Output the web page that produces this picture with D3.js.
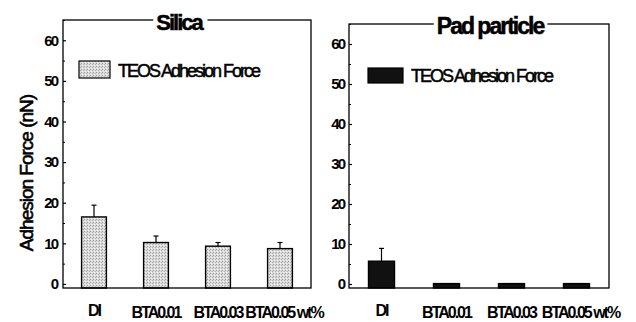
<!DOCTYPE html>
<html>
<head>
<meta charset="utf-8">
<script src="https://cdn.jsdelivr.net/npm/d3@7"></script>
<style>
  body { margin: 0; background: #fff; }
  svg { display: block; }
  text { font-family: "Liberation Sans", Arial, sans-serif; fill: #000; }
</style>
</head>
<body>
<div id="chart"></div>
<script>
// ---- data ----
var categories = ["DI", "BTA0.01", "BTA0.03", "BTA0.05 wt%"];
var silicaValues = [16.5, 10.2, 9.3, 8.7];
var silicaErrors = [2.9, 1.6, 0.9, 1.5];
var padValues = [5.7, 0.1, 0.1, 0.1];
var padErrors = [3.2, 0, 0, 0];
var yTicks = [0, 10, 20, 30, 40, 50, 60];
var yMinorTicks = [5, 15, 25, 35, 45, 55, 65];
var legendLabel = "TEOS  Adhesion Force";
var yLabel = "Adhesion Force (nN)";

var width = 636, height = 322;

var svg = d3.select("#chart").append("svg")
    .attr("width", width)
    .attr("height", height);

// stippled light grey fill for the silica bars
var defs = svg.append("defs");
var pat = defs.append("pattern")
    .attr("id", "stipple")
    .attr("width", 3).attr("height", 3)
    .attr("patternUnits", "userSpaceOnUse");
pat.append("rect").attr("width", 3).attr("height", 3).attr("fill", "#dcdcdc");
pat.append("rect").attr("x", 0).attr("y", 0).attr("width", 1).attr("height", 1).attr("fill", "#9a9a9a");
pat.append("rect").attr("x", 2).attr("y", 1).attr("width", 1).attr("height", 1).attr("fill", "#b0b0b0");
pat.append("rect").attr("x", 1).attr("y", 2).attr("width", 1).attr("height", 1).attr("fill", "#f4f4f4");

var panels = [
    { title: "Silica", values: silicaValues, errors: silicaErrors, fill: "url(#stipple)",
      x0: 63, x1: 311, y0: 20, y1: 288, titleSize: 22, legendDx: 16, legendDy: 41, legendW: 31, legendH: 17 },
    { title: "Pad particle", values: padValues, errors: padErrors, fill: "#111",
      x0: 349, x1: 609, y0: 24, y1: 288, titleSize: 23, legendDx: 19, legendDy: 44, legendW: 35, legendH: 15 }
];

panels.forEach(function(p, pi){
    var g = svg.append("g");

    var x = d3.scaleBand()
        .domain(categories)
        .range([p.x0, p.x1])
        .paddingInner(0.6)
        .paddingOuter(0.3);

    var y = d3.scaleLinear()
        .domain([-1, 65])
        .range([p.y1, p.y0]);

    // bars (drawn up from the bottom of the axis)
    g.selectAll("rect.bar")
        .data(p.values)
        .enter()
        .append("rect")
        .attr("class", "bar")
        .attr("x", function(d, i){ return x(categories[i]); })
        .attr("width", x.bandwidth())
        .attr("y", function(d){ return y(d); })
        .attr("height", function(d){ return y(-1) - y(d); })
        .attr("fill", p.fill)
        .attr("stroke", "#000")
        .attr("stroke-width", 1.4);

    // error bars, upper half only
    var errs = g.selectAll("g.err")
        .data(p.values)
        .enter()
        .append("g")
        .attr("class", "err")
        .filter(function(d, i){ return p.errors[i] > 0; });
    errs.append("line")
        .attr("x1", function(d, i){ return x(categories[i]) + x.bandwidth() / 2; })
        .attr("x2", function(d, i){ return x(categories[i]) + x.bandwidth() / 2; })
        .attr("y1", function(d){ return y(d); })
        .attr("y2", function(d, i){ return y(d + p.errors[i]); })
        .attr("stroke", "#000").attr("stroke-width", 1.2);
    errs.append("line")
        .attr("x1", function(d, i){ return x(categories[i]) + x.bandwidth() / 2 - 2.5; })
        .attr("x2", function(d, i){ return x(categories[i]) + x.bandwidth() / 2 + 2.5; })
        .attr("y1", function(d, i){ return y(d + p.errors[i]); })
        .attr("y2", function(d, i){ return y(d + p.errors[i]); })
        .attr("stroke", "#000").attr("stroke-width", 1.2);

    // y axis, ticks pointing inward
    var yAxis = g.append("g")
        .attr("transform", "translate(" + p.x0 + ",0)")
        .call(d3.axisLeft(y).tickValues(yTicks).tickSizeInner(-3).tickSizeOuter(0).tickPadding(pi == 0 ? 6 : 5));
    yAxis.select(".domain").remove();
    yAxis.selectAll("text")
        .attr("font-size", 15)
        .attr("font-weight", "bold")
        .attr("letter-spacing", -2)
        .attr("font-family", "Liberation Sans, Arial, sans-serif");
    yAxis.selectAll("line").attr("stroke-width", 1.2);

    var yMinor = g.append("g")
        .attr("transform", "translate(" + p.x0 + ",0)")
        .call(d3.axisLeft(y).tickValues(yMinorTicks).tickSizeInner(-2).tickSizeOuter(0).tickFormat(""));
    yMinor.select(".domain").remove();

    // frame
    g.append("rect")
        .attr("x", p.x0).attr("y", p.y0)
        .attr("width", p.x1 - p.x0).attr("height", p.y1 - p.y0)
        .attr("fill", "none")
        .attr("stroke", "#000")
        .attr("stroke-width", 1.3);

    // title sitting on the top border
    var cx = (p.x0 + p.x1) / 2 + (pi == 0 ? -8 : 11);
    var t = g.append("text")
        .attr("x", cx)
        .attr("y", p.y0 + 10)
        .attr("text-anchor", "middle")
        .attr("font-size", p.titleSize)
        .attr("font-weight", "bold")
        .attr("letter-spacing", -2)
        .attr("stroke", "#000")
        .attr("stroke-width", 0.5)
        .text(p.title);
    var bb = t.node().getBBox();
    g.insert("rect", function(){ return t.node(); })
        .attr("x", bb.x - 3).attr("y", p.y0 - 3)
        .attr("width", bb.width + 6).attr("height", 6)
        .attr("fill", "#fff");

    // legend
    var lx = p.x0 + p.legendDx, ly = p.y0 + p.legendDy;
    g.append("rect")
        .attr("x", lx).attr("y", ly)
        .attr("width", p.legendW).attr("height", p.legendH)
        .attr("fill", p.fill)
        .attr("stroke", "#000")
        .attr("stroke-width", 1.2);
    g.append("text")
        .attr("x", lx + p.legendW + 8)
        .attr("y", ly + p.legendH - 1)
        .attr("font-size", 18)
        .attr("letter-spacing", -2)
        .attr("stroke", "#000")
        .attr("stroke-width", 0.5)
        .text(legendLabel);

    // category labels
    g.selectAll("text.cat")
        .data(categories)
        .enter()
        .append("text")
        .attr("class", "cat")
        .attr("x", function(d){ return x(d) + x.bandwidth() / 2 + (d == "BTA0.05 wt%" ? 4 : 0); })
        .attr("y", function(d){ return d == "DI" ? 316 : 318; })
        .attr("text-anchor", "middle")
        .attr("font-size", 16)
        .attr("font-weight", "bold")
        .attr("letter-spacing", -2)
        .text(function(d){ return d; });
});

// y axis title
svg.append("text")
    .attr("transform", "translate(33,173) rotate(-90)")
    .attr("text-anchor", "middle")
    .attr("font-size", 19)
    .attr("letter-spacing", -1)
    .attr("stroke", "#000")
    .attr("stroke-width", 0.6)
    .text(yLabel);
</script>
</body>
</html>
